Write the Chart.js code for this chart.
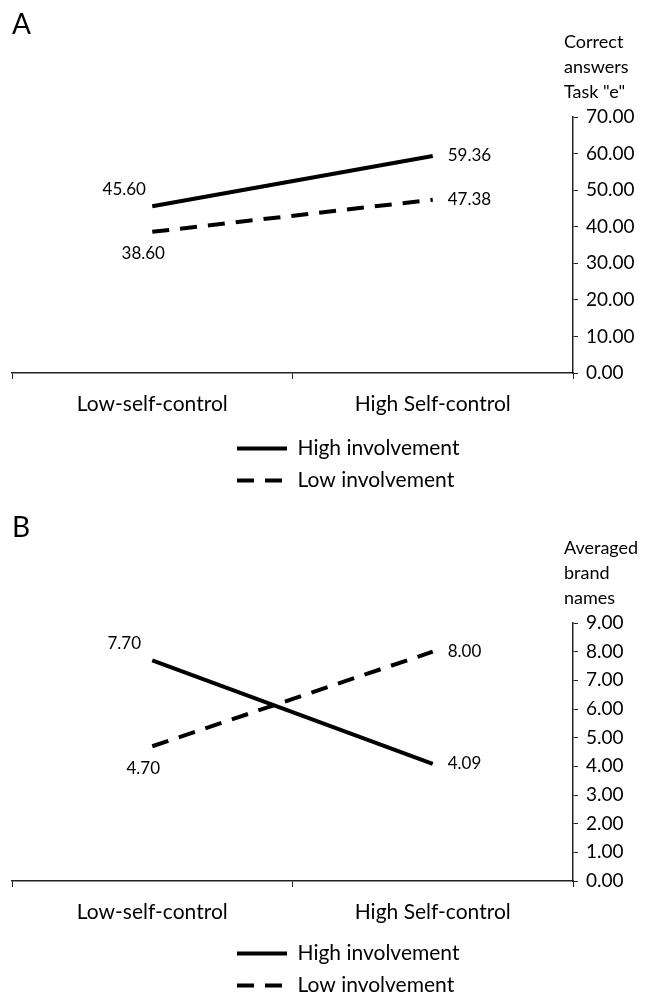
<!DOCTYPE html>
<html>
<head>
<meta charset="utf-8">
<title>Self-control x involvement</title>
<script src="https://cdn.jsdelivr.net/npm/chart.js@4.4.1/dist/chart.umd.min.js"></script>
<style>
  html, body { margin: 0; padding: 0; background: #fff; }
  #wrap { position: relative; width: 648px; height: 995px; }
  canvas { position: absolute; left: 0; }
  #chartA { top: 0; }
  #chartB { top: 508px; }
</style>
</head>
<body>
<div id="wrap">
  <canvas id="chartA" width="648" height="500"></canvas>
  <canvas id="chartB" width="648" height="487"></canvas>
</div>
<script>
const categories = ["Low-self-control", "High Self-control"];
const seriesNames = ["High involvement", "Low involvement"];

// panel A
const correctHigh = [45.60, 59.36];
const correctLow = [38.60, 47.38];
const correctTicks = [0, 10, 20, 30, 40, 50, 60, 70];
const correctTitle = ["Correct", "answers", "Task \"e\""];

// panel B
const brandHigh = [7.70, 4.09];
const brandLow = [4.70, 8.00];
const brandTicks = [0, 1, 2, 3, 4, 5, 6, 7, 8, 9];
const brandTitle = ["Averaged", "brand", "names"];

const FONT = "Lato, 'Open Sans', sans-serif";
const INK = "#000";
Chart.defaults.font.family = FONT;
Chart.defaults.color = INK;

// value labels next to the line ends, axis caption and panel letter
const extras = {
  id: "extras",
  afterDatasetsDraw(chart, args, opts) {
    const ctx = chart.ctx;
    const sets = chart.data.datasets;
    ctx.save();
    ctx.fillStyle = INK;
    ctx.font = "17px " + FONT;
    ctx.textBaseline = "middle";
    sets.forEach((ds, di) => {
      const pts = chart.getDatasetMeta(di).data;
      pts.forEach((pt, i) => {
        const txt = ds.data[i].toFixed(2);
        if (i === pts.length - 1) {
          ctx.textAlign = "left";
          ctx.fillText(txt, pt.x + 15, pt.y);
        } else if (sets.every(o => o.data[i] <= ds.data[i])) {
          ctx.textAlign = "center";
          ctx.fillText(txt, pt.x - 28, pt.y - 17);
        } else {
          ctx.textAlign = "center";
          ctx.fillText(txt, pt.x - 9, pt.y + 22);
        }
      });
    });

    const y = chart.scales.y;
    ctx.textAlign = "left";
    ctx.font = "18px " + FONT;
    opts.caption.forEach((line, i) => {
      ctx.fillText(line, y.left - 9, y.top - 25 * (opts.caption.length - i));
    });

    ctx.textBaseline = "alphabetic";
    ctx.font = "28px " + FONT;
    ctx.fillText(opts.letter, 12, opts.letterY);
    ctx.restore();
  }
};

// stack the legend under the category labels
const legendBelow = {
  id: "legendBelow",
  afterLayout(chart, args, opts) {
    const lg = chart.legend;
    lg.left = opts.x;
    lg.right = opts.x + 280;
    lg.top = chart.chartArea.bottom + opts.dy;
    lg.bottom = lg.top + 100;
  }
};

// point-style legend items take the point style, so copy the line dash back in
function lineLegend(chart) {
  const items = Chart.defaults.plugins.legend.labels.generateLabels(chart);
  items.forEach((item, i) => {
    const ds = chart.data.datasets[i];
    item.lineDash = ds.borderDash || [];
    item.lineWidth = ds.borderWidth;
    item.strokeStyle = ds.borderColor;
    item.lineCap = "butt";
  });
  return items;
}

function makeChart(id, high, low, ticks, caption, letter, letterY, top, legendDy) {
  const canvas = document.getElementById(id);
  const h = canvas.height;
  return new Chart(canvas, {
    type: "line",
    data: {
      labels: categories,
      datasets: [
        { label: seriesNames[0], data: high, borderColor: INK, borderWidth: 4, borderCapStyle: "butt", pointRadius: 0, tension: 0 },
        { label: seriesNames[1], data: low, borderColor: INK, borderWidth: 4, borderDash: [17, 11], borderCapStyle: "butt", pointRadius: 0, tension: 0 }
      ]
    },
    options: {
      responsive: false,
      animation: false,
      devicePixelRatio: 1,
      layout: { padding: { left: 12, top: top, right: 0, bottom: 0 } },
      scales: {
        x: {
          offset: true,
          grid: { offset: true, drawOnChartArea: false, color: "#222", tickLength: 6 },
          border: { color: "#222", width: 1.5 },
          ticks: { font: { size: 21 }, color: INK, padding: 13, maxRotation: 0 },
          afterFit: s => { s.height = h - 373; }
        },
        y: {
          position: "right",
          min: ticks[0],
          max: ticks[ticks.length - 1],
          afterBuildTicks: s => { s.ticks = ticks.map(v => ({ value: v })); },
          grid: { drawOnChartArea: false, color: "#222", tickLength: 5 },
          border: { color: "#222", width: 1.5 },
          ticks: { font: { size: 19 }, color: INK, padding: 8, callback: v => v.toFixed(2) },
          afterFit: s => { s.width = 75; }
        }
      },
      plugins: {
        legend: {
          position: "chartArea",
          align: "start",
          labels: {
            usePointStyle: true, pointStyle: "line", pointStyleWidth: 50,
            font: { size: 21 }, color: INK, padding: 11,
            generateLabels: lineLegend
          }
        },
        tooltip: { enabled: false },
        extras: { caption: caption, letter: letter, letterY: letterY },
        legendBelow: { x: 226, dy: legendDy }
      }
    },
    plugins: [extras, legendBelow]
  });
}

makeChart("chartA", correctHigh, correctLow, correctTicks, correctTitle, "A", 34, 117, 54);
makeChart("chartB", brandHigh, brandLow, brandTicks, brandTitle, "B", 29, 115, 51);
</script>
</body>
</html>
